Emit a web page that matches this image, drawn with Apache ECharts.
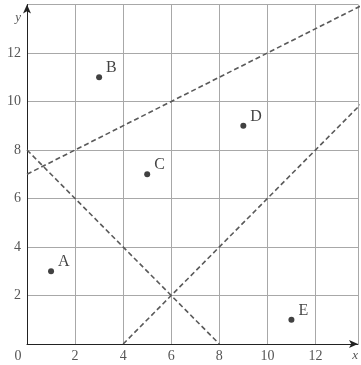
<!DOCTYPE html>
<html><head><meta charset="utf-8">
<script src="https://cdn.jsdelivr.net/npm/echarts@6/dist/echarts.min.js"></script>
<style>html,body{margin:0;padding:0;background:#fff}#c{width:361px;height:365px}</style>
</head><body><div id="c"></div>
<script>
const pointNames = ['A','B','C','D','E'];
const pointX = [1, 3, 5, 9, 11];
const pointY = [3, 11, 7, 9, 1];
const lineUp = [[0, 7], [14, 14]];
const lineDown = [[0, 8], [8, 0]];
const lineSteep = [[4, 0], [14, 10]];
const xTicks = [0, 2, 4, 6, 8, 10, 12];
const yTicks = [2, 4, 6, 8, 10, 12];

const chart = echarts.init(document.getElementById('c'));
const serif = 'Liberation Serif';
const dashStyle = {color: '#5a5a5a', width: 1.6, type: [5, 3]};
const mkLine = d => ({type: 'line', data: d, symbol: 'none', lineStyle: dashStyle, silent: true, clip: true, z: 3});
chart.setOption({
  animation: false,
  grid: {left: 27, right: 0, top: 4.5, bottom: 21, containLabel: false},
  xAxis: {
    type: 'value', min: 0, max: 13.77, interval: 2,
    name: 'x', nameLocation: 'end', nameGap: 0,
    nameTextStyle: {fontFamily: serif, fontStyle: 'italic', fontSize: 13, color: '#555', align: 'right', verticalAlign: 'top', padding: [5, 0, 0, 0]},
    axisLine: {lineStyle: {color: '#222', width: 1}, symbol: ['none', 'arrow'], symbolSize: [6, 9]},
    axisTick: {show: false},
    splitLine: {show: true, lineStyle: {color: '#a8a8a8', width: 1}},
    axisLabel: {
      fontFamily: serif, fontSize: 14, color: '#555', margin: 5,
      formatter: v => xTicks.includes(v) ? (v === 0 ? '{z|0}' : String(v)) : '',
      rich: {z: {fontFamily: serif, fontSize: 14, color: '#555', padding: [0, 18, 0, 0]}}
    }
  },
  yAxis: {
    type: 'value', min: 0, max: 14, interval: 2,
    name: 'y', nameLocation: 'end', nameGap: -20,
    nameTextStyle: {fontFamily: serif, fontStyle: 'italic', fontSize: 13, color: '#555', align: 'right', padding: [0, 6, 0, 0]},
    axisLine: {lineStyle: {color: '#222', width: 1}, symbol: ['none', 'arrow'], symbolSize: [6, 9]},
    axisTick: {show: false},
    splitLine: {show: true, lineStyle: {color: '#a8a8a8', width: 1}},
    axisLabel: {
      fontFamily: serif, fontSize: 14, color: '#555', margin: 6,
      formatter: v => yTicks.includes(v) ? String(v) : ''
    }
  },
  series: [
    mkLine(lineUp), mkLine(lineDown), mkLine(lineSteep),
    {
      type: 'scatter', symbolSize: 6, itemStyle: {color: '#111'}, z: 5,
      data: pointX.map((x, i) => ({value: [x, pointY[i]], name: pointNames[i]})),
      label: {show: true, formatter: p => p.name, position: 'right', offset: [-1, -9],
        fontFamily: serif, fontSize: 16, color: '#111'}
    }
  ]
});
</script></body></html>
